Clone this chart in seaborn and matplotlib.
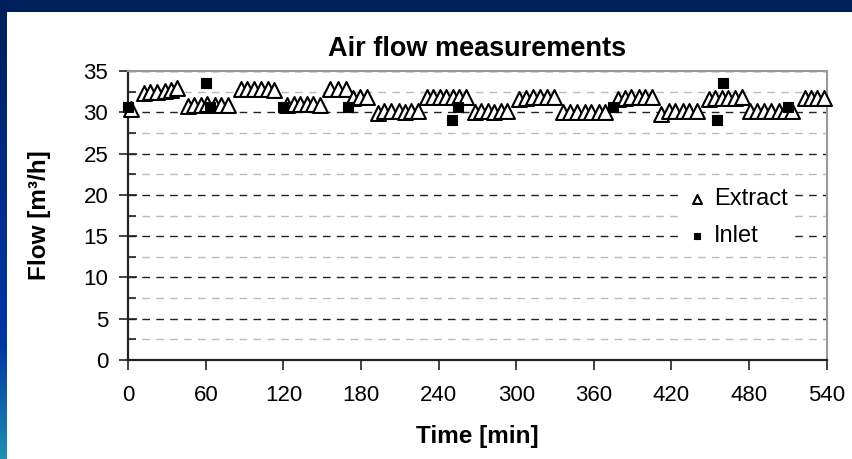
import numpy as np
import pandas as pd
import matplotlib
matplotlib.use("Agg")
import matplotlib.pyplot as plt
from matplotlib.colors import LinearSegmentedColormap
import seaborn as sns

# ---- data ----
extract_time = [2,
                12, 17, 22, 28, 33, 38,
                46, 51, 56, 61, 67, 72, 77,
                87, 92, 97, 103, 108, 113,
                123, 128, 133, 138, 143, 148,
                156, 162, 168,
                174, 179, 185,
                193, 198, 203, 209, 214, 219, 224,
                231, 236, 241, 246, 251, 256, 261,
                268, 273, 278, 283, 288, 293,
                302, 307.5, 313, 318.5, 324, 329.5,
                336, 342, 347, 353, 358, 364, 369,
                379, 384, 389, 395, 400, 405,
                412, 418, 423, 429, 434, 440,
                449, 454, 459, 464, 469, 475,
                481, 486, 492, 497, 503, 508, 513,
                523, 528, 533, 538]
extract_flow = [30.4,
                32.3, 32.4, 32.5, 32.6, 32.7, 32.9,
                30.8, 30.9, 30.9, 31.0, 30.9, 30.9, 30.9,
                32.8, 32.8, 32.8, 32.8, 32.8, 32.7,
                30.9, 31.0, 31.0, 31.0, 31.0, 30.9,
                32.8, 32.8, 32.8,
                31.7, 31.9, 31.8,
                29.9, 30.1, 30.1, 30.1, 30.0, 30.1, 30.2,
                31.8, 31.8, 31.8, 31.8, 31.8, 31.8, 31.8,
                30.0, 30.1, 30.1, 30.0, 30.1, 30.1,
                31.6, 31.7, 31.8, 31.8, 31.8, 31.8,
                30.0, 30.0, 30.0, 30.0, 30.0, 30.0, 30.0,
                31.6, 31.7, 31.8, 31.8, 31.8, 31.8,
                29.8, 30.1, 30.1, 30.1, 30.1, 30.1,
                31.6, 31.7, 31.7, 31.7, 31.7, 31.9,
                30.1, 30.1, 30.1, 30.1, 30.1, 30.1, 30.1,
                31.7, 31.7, 31.7, 31.7]
inlet_time = [0, 60, 63, 120, 170, 250, 255, 375, 455, 460, 510]
inlet_flow = [30.7, 33.5, 30.7, 30.6, 30.6, 29.1, 30.7, 30.7, 29.1, 33.5, 30.6]

x_ticks = [0, 60, 120, 180, 240, 300, 360, 420, 480, 540]
y_ticks = [0, 5, 10, 15, 20, 25, 30, 35]

title = "Air flow measurements"
x_label = "Time [min]"
y_label = "Flow [m³/h]"

# ---- style ----
sns.set_theme(style="white")
plt.rcParams['font.family'] = ['Liberation Sans', 'DejaVu Sans']
plt.rcParams['text.color'] = 'black'
plt.rcParams['axes.labelcolor'] = 'black'
plt.rcParams['xtick.color'] = 'black'
plt.rcParams['ytick.color'] = 'black'

W, H = 853, 459
fig = plt.figure(figsize=(W / 100, H / 100), dpi=100)
fig.patch.set_facecolor("white")

# slide background bands
top_h = 12 / H
left_w = 7 / W
fig.patches.append(plt.Rectangle((0, 1 - top_h), 1, top_h, transform=fig.transFigure,
                                 facecolor="#00205B", edgecolor="none", zorder=0))
bax = fig.add_axes([0, 0, left_w, 1 - top_h])
cmap = LinearSegmentedColormap.from_list(
    "slide", [(0.0, "#2090B0"), (0.13, "#1060A8"), (0.26, "#0035A5"),
              (0.55, "#002F8F"), (1.0, "#00205B")])
bax.imshow(np.linspace(0, 1, 256).reshape(-1, 1), aspect="auto", cmap=cmap, origin="lower",
           extent=[0, 1, 0, 1])
bax.set_axis_off()

ax = fig.add_axes([128.3 / W, 1 - 360 / H, (826.5 - 128.3) / W, (360 - 71) / H])

df_e = pd.DataFrame({"Time": extract_time, "Flow": extract_flow, "Series": "Extract"})
df_i = pd.DataFrame({"Time": inlet_time, "Flow": inlet_flow, "Series": "Inlet"})

sns.scatterplot(data=df_e, x="Time", y="Flow", marker="^", s=115, color="white",
                edgecolor="black", linewidth=1.5, ax=ax, label="Extract", clip_on=False, zorder=3)
sns.scatterplot(data=df_i, x="Time", y="Flow", marker="s", s=55, color="black",
                edgecolor="black", linewidth=0.8, ax=ax, label="Inlet", clip_on=False, zorder=4)

ax.set_xlim(0, 540)
ax.set_ylim(0, 35)
ax.set_xticks(x_ticks)
ax.set_yticks(y_ticks)
ax.set_yticks(np.arange(2.5, 35, 5), minor=True)

# gridlines
ax.grid(False)
ax.yaxis.grid(True, which="major", color="#222222", linestyle=(0, (5.5, 4.5)), linewidth=1.0)
ax.yaxis.grid(True, which="minor", color="#BBBBBB", linestyle=(0, (5.5, 4.5)), linewidth=1.0)
ax.set_axisbelow(True)

for side in ["top", "right"]:
    ax.spines[side].set_visible(True)
    ax.spines[side].set_color("#999999")
    ax.spines[side].set_linewidth(1.5)
for side in ["left", "bottom"]:
    ax.spines[side].set_color("#222222")
    ax.spines[side].set_linewidth(1.6)

ax.tick_params(axis="y", which="major", direction="inout", length=13, width=1.2,
               color="#222222", labelsize=16, pad=8, left=True)
ax.tick_params(axis="y", which="minor", direction="in", length=6, width=1.2,
               color="#222222", left=True)
ax.tick_params(axis="x", which="major", direction="out", length=7, width=1.2,
               color="#222222", labelsize=16, pad=11, bottom=True)

ax.set_xlabel(x_label, fontsize=17.5, fontweight="bold", labelpad=14)
ax.set_ylabel(y_label, fontsize=17.5, fontweight="bold", labelpad=23)
ax.set_title(title, fontsize=19.5, fontweight="bold", pad=11)

leg = ax.legend(loc="upper left", bbox_to_anchor=(0.77, 0.66), frameon=True,
                fontsize=17, markerscale=0.6, handletextpad=0.25, labelspacing=0.65,
                borderpad=0.3, handlelength=1.0)
leg.get_frame().set_facecolor("white")
leg.get_frame().set_edgecolor("none")
leg.get_frame().set_alpha(1.0)

fig.savefig("out.png", dpi=100)
